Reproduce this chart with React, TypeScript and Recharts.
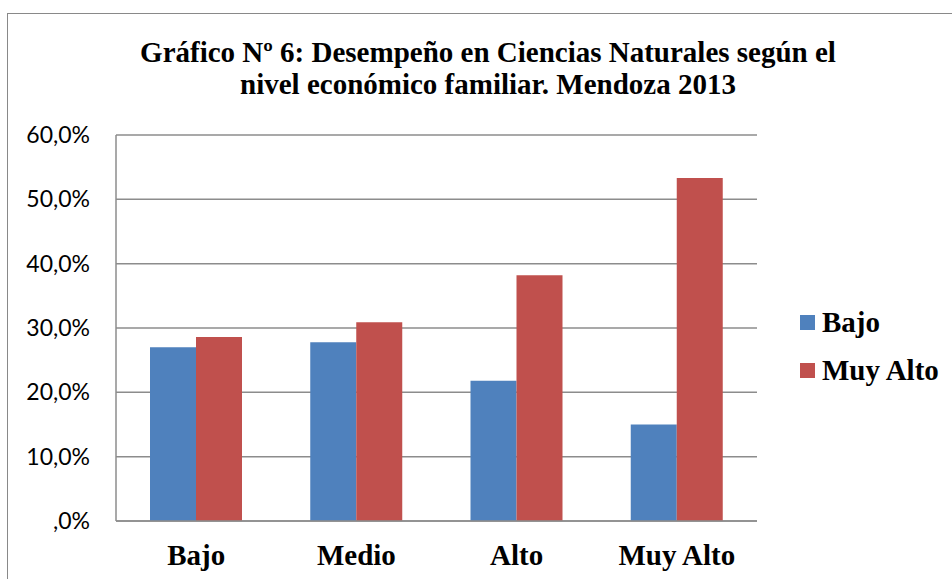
import React from 'react';
import { BarChart, Bar, XAxis, YAxis, CartesianGrid, Legend } from 'recharts';

const categories = ['Bajo', 'Medio', 'Alto', 'Muy Alto'];
const bajoValues = [27.0, 27.8, 21.8, 15.0];
const muyAltoValues = [28.6, 30.9, 38.2, 53.3];
const yTicks = [0, 10, 20, 30, 40, 50, 60];
const seriesNames = ['Bajo', 'Muy Alto'];
const seriesColors = ['#4F81BD', '#C0504D'];
const titleLines = [
  'Gráfico Nº 6: Desempeño en Ciencias Naturales según el',
  'nivel económico familiar. Mendoza 2013',
];

const data = categories.map((c, i) => ({
  name: c,
  bajo: bajoValues[i],
  muyAlto: muyAltoValues[i],
}));

const fmt = (v: number) => (v === 0 ? ',0%' : v.toFixed(1).replace('.', ',') + '%');

const serif = '"Liberation Serif", "Times New Roman", serif';

const LegendContent = () => (
  <div>
    {seriesNames.map((n, i) => (
      <div key={n} style={{ display: 'flex', alignItems: 'center', height: 48 }}>
        <span
          style={{
            display: 'inline-block',
            width: 15,
            height: 15,
            background: seriesColors[i],
            marginRight: 7,
          }}
        />
        <span style={{ fontFamily: serif, fontWeight: 'bold', fontSize: 29, color: '#000' }}>{n}</span>
      </div>
    ))}
  </div>
);

export default function App() {
  return (
    <div style={{ position: 'fixed', left: 0, top: 0, width: 952, height: 579, overflow: 'hidden', background: '#fff' }}>
      <div
        style={{
          position: 'absolute',
          left: 7,
          top: 13,
          width: 1000,
          height: 1000,
          borderLeft: '1px solid #898989',
          borderTop: '1px solid #898989',
        }}
      />
      <div
        style={{
          position: 'absolute',
          left: 0,
          top: 36,
          width: 976,
          textAlign: 'center',
          fontFamily: serif,
          fontWeight: 'bold',
          fontSize: 29,
          lineHeight: '32px',
          color: '#000',
          whiteSpace: 'nowrap',
        }}
      >
        {titleLines.map((l) => (
          <div key={l}>{l}</div>
        ))}
      </div>
      <div style={{ position: 'absolute', left: 0, top: 0 }}>
        <BarChart
          width={952}
          height={579}
          data={data}
          margin={{ top: 135, right: 195, bottom: 28, left: 16 }}
          barGap={0}
        >
          <CartesianGrid vertical={false} stroke="#8c8c8c" strokeWidth={1.5} />
          <XAxis
            dataKey="name"
            tickLine={false}
            axisLine={{ stroke: '#8c8c8c', strokeWidth: 1.5 }}
            tickSize={6}
            tickMargin={17}
            height={30}
            interval={0}
            tick={{ fontFamily: serif, fontWeight: 'bold', fontSize: 29, fill: '#000' }}
          />
          <YAxis
            width={100}
            domain={[0, 60]}
            ticks={yTicks}
            tickFormatter={fmt}
            tickLine={false}
            axisLine={{ stroke: '#8c8c8c', strokeWidth: 1.5 }}
            tickSize={6}
            tickMargin={20}
            tick={{ fontFamily: 'Lato, "Liberation Sans", sans-serif', fontSize: 23, fill: '#000' }}
          />
          <Legend
            layout="horizontal"
            verticalAlign="middle"
            align="center"
            content={() => <LegendContent />}
            wrapperStyle={{ position: 'absolute', left: 800, top: 298, width: 150, height: 96 }}
          />
          <Bar dataKey="bajo" name={seriesNames[0]} fill={seriesColors[0]} barSize={46} isAnimationActive={false} />
          <Bar dataKey="muyAlto" name={seriesNames[1]} fill={seriesColors[1]} barSize={46} isAnimationActive={false} />
        </BarChart>
      </div>
    </div>
  );
}
